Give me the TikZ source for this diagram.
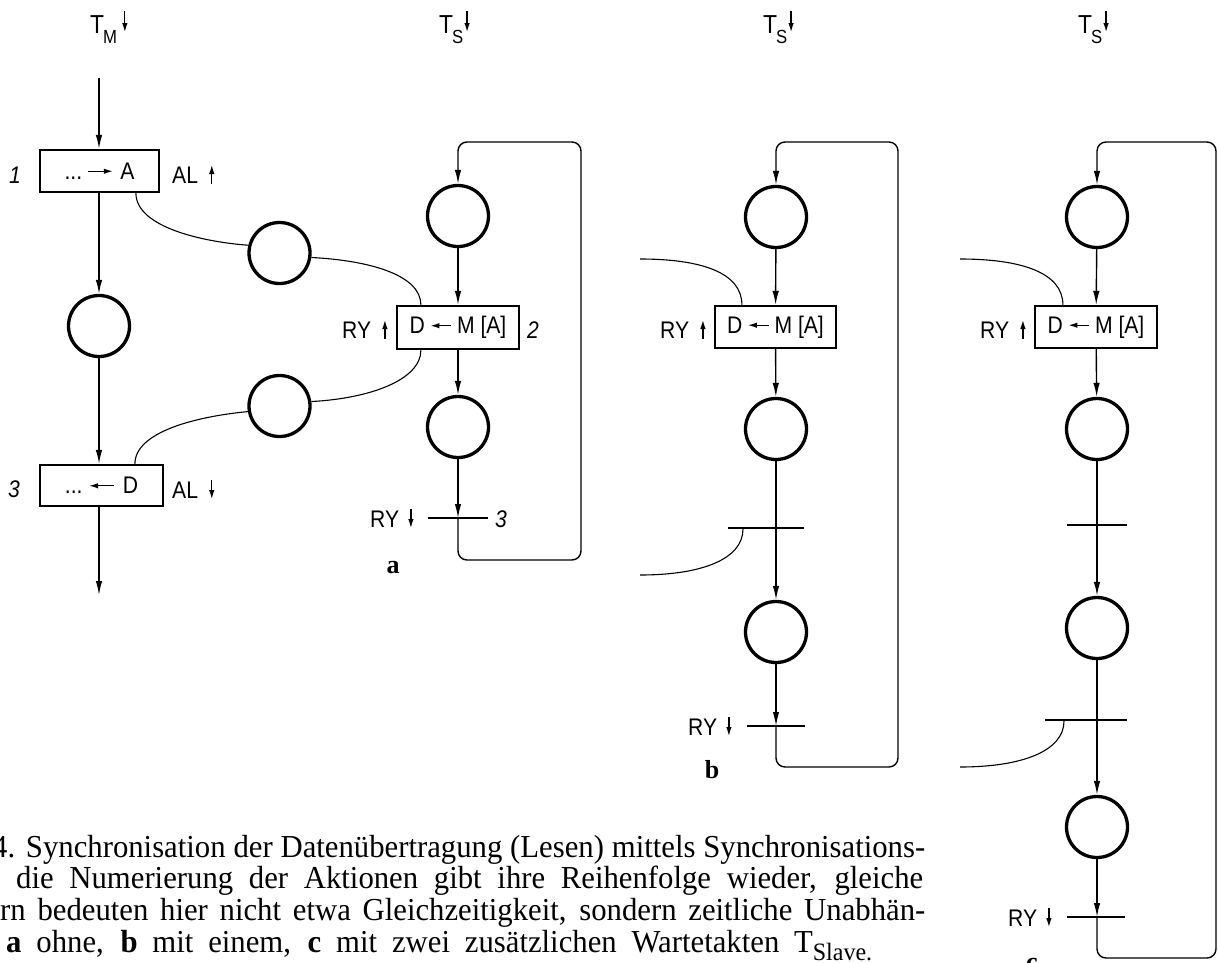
\documentclass[tikz,border=0pt]{standalone}
\usepackage{fontspec}
\setmainfont{Liberation Serif}
\newfontfamily\capfont[FakeStretch=0.96]{Liberation Serif}
\newfontfamily\lab[FakeStretch=0.88]{Liberation Sans}
\usetikzlibrary{arrows.meta,calc}
\newcommand{\labup}{\tikz[baseline=0pt]\draw[line width=1.2pt,-{Latex[length=9pt,width=5.5pt]}] (0pt,-1pt)--(0pt,18pt);}
\newcommand{\labdn}{\tikz[baseline=0pt]\draw[line width=1.2pt,-{Latex[length=9pt,width=5.5pt]}] (0pt,18pt)--(0pt,-1pt);}
\newcommand{\labri}[1]{\tikz[baseline=-8pt]\draw[line width=1.2pt,-{Latex[length=9pt,width=5.5pt]}] (0pt,0pt)--(#1,0pt);}
\newcommand{\lable}[1]{\tikz[baseline=-8pt]\draw[line width=1.2pt,-{Latex[length=9pt,width=5.5pt]}] (#1,0pt)--(0pt,0pt);}
\newcommand{\tarr}{\tikz[baseline=0pt]\draw[line width=1.2pt,-{Latex[length=9pt,width=5.5pt]}] (0pt,22pt)--(0pt,1pt);}
\begin{document}
\begin{tikzpicture}[x=1pt,y=-1pt,
  >={Latex[length=14pt,width=6.5pt]},
  conn/.style={line width=1.4pt,->},
  plain/.style={line width=1.4pt},
  loopline/.style={line width=1.4pt,rounded corners=9pt,->},
  thinline/.style={line width=1.1pt},
  place/.style={circle,draw,line width=3.3pt,minimum size=61pt,inner sep=0pt},
  action/.style={rectangle,draw,line width=2.2pt,inner sep=0pt,minimum height=42pt,font=\lab\fontsize{24}{26}\selectfont},
  bar/.style={rectangle,fill=black,inner sep=0pt,minimum height=2.6pt},
  lbl/.style={font=\lab\fontsize{24}{26}\selectfont,inner sep=0pt,anchor=base west},
  ital/.style={font=\lab\itshape\fontsize{24}{26}\selectfont,inner sep=0pt,anchor=base west},
  tlbl/.style={font=\lab\fontsize{26}{28}\selectfont,inner sep=0pt,anchor=base west},
  sublbl/.style={font=\bfseries\fontsize{26}{28}\selectfont,inner sep=0pt,anchor=base},
  captext/.style={font=\capfont\fontsize{32}{32}\selectfont,inner sep=0pt,anchor=base west}
]
\useasboundingbox (0,0) rectangle (1218,962);

% ---------- clock labels
\node[tlbl] (TM) at (90,33) {T\kern-1pt\raisebox{-10pt}{\fontsize{19}{19}\selectfont M}\kern5pt\tarr};
\node[tlbl] (TSa) at (439,33) {T\kern-1pt\raisebox{-10pt}{\fontsize{19}{19}\selectfont S}\kern1pt\tarr};
\node[tlbl] (TSb) at (763,33) {T\kern-1pt\raisebox{-10pt}{\fontsize{19}{19}\selectfont S}\kern1pt\tarr};
\node[tlbl] (TSc) at (1078,33) {T\kern-1pt\raisebox{-10pt}{\fontsize{19}{19}\selectfont S}\kern1pt\tarr};

% ---------- master column
\coordinate (m0) at (99,78);
\node[action,minimum width=119pt] (box1) at (99.5,171) {...\hspace{5pt}\labri{25pt}\hspace{7pt}A};
\node[ital] (n1) at (9,183) {1};
\node[lbl] (al1) at (172,183) {AL\hspace{11pt}\labup};
\node[place] (P1) at (99,326) {};
\node[action,minimum width=123pt,minimum height=41pt] (box3) at (101.5,485.5) {...\hspace{6pt}\lable{25pt}\hspace{8pt}D};
\node[ital] (n3) at (8,497) {3};
\node[lbl] (al3) at (172,498) {AL\hspace{11pt}\labdn};
\coordinate (m1) at (99,595);
\draw[conn] (m0) -- (box1.north -| m0);
\draw[conn] (box1.south -| m0) -- (P1);
\draw[conn] (P1) -- (box3.north -| P1);
\draw[conn] (box3.south -| P1) -- (m1);

% ---------- side places
\node[place] (S1) at (279.5,253) {};
\node[place] (S2) at (279.5,406) {};

% ---------- column a
\node[place] (A1) at (458,216) {};
\node[action,minimum width=122pt,minimum height=43pt] (box2) at (458,327.5) {D\hspace{5pt}\lable{21pt}\hspace{5pt}M [A]};
\node[lbl] (rya) at (342,338) {RY\hspace{11pt}\labup};
\node[ital] (n2) at (527,338) {2};
\node[place] (A2) at (458,427) {};
\node[bar,minimum width=60pt] (barA) at (458,518) {};
\node[lbl] (ryda) at (370,527) {RY\hspace{9pt}\labdn};
\node[ital] (n3a) at (495,527) {3};
\node[sublbl] (la) at (393,573) {a};
\coordinate (la1) at (458,560);
\coordinate (la2) at (581,560);
\coordinate (la3) at (581,142);
\coordinate (la4) at (458,142);
\draw[conn] (A1) -- (box2);
\draw[conn] (box2) -- (A2);
\draw[conn] (A2) -- (barA.center);
\draw[loopline] (barA.center) -- (la1) -- (la2) -- (la3) -- (la4) -- (A1);

% ---------- couplings master <-> a
\draw[thinline] ($(box1.south west)+(97,0)$) .. controls +(0,35) and +(-42,-3) .. (S1.166);
\draw[thinline] (S1.-8) .. controls +(58,3) and +(0,-30) .. ($(box2.north west)+(25,0)$);
\draw[thinline] ($(box2.south west)+(25,0)$) .. controls +(0,30) and +(58,-3) .. (S2.8);
\draw[thinline] (S2.190) .. controls +(-52,5) and +(0,-32) .. ($(box3.north west)+(96,0)$);

% ---------- column b
\node[place] (B1) at (776,217) {};
\node[action,minimum width=121pt] (boxB) at (775.5,327) {D\hspace{5pt}\lable{21pt}\hspace{5pt}M [A]};
\node[lbl] (ryb) at (660,338) {RY\hspace{11pt}\labup};
\node[place] (B2) at (776,429) {};
\node[bar,minimum width=76pt] (barB1) at (766,528) {};
\node[place] (B3) at (776,632) {};
\node[bar,minimum width=58pt] (barBR) at (776,726) {};
\node[lbl] (rydb) at (688,735) {RY\hspace{9pt}\labdn};
\node[sublbl] (lb) at (712,778) {b};
\coordinate (lb1) at (776,767);
\coordinate (lb2) at (898,767);
\coordinate (lb3) at (898,142);
\coordinate (lb4) at (776,142);
\coordinate (fb1) at (640,259);
\coordinate (fb2) at (640,575);
\draw[conn] (B1) -- (boxB);
\draw[conn] (boxB) -- (B2);
\draw[plain] (B2) -- (B2 |- barB1.center);
\draw[conn] (B2 |- barB1.center) -- (B3);
\draw[conn] (B3) -- (barBR.center);
\draw[loopline] (barBR.center) -- (lb1) -- (lb2) -- (lb3) -- (lb4) -- (B1);
\draw[thinline] ($(boxB.north west)+(28,0)$) .. controls +(0,-32) and +(62,0) .. (fb1);
\draw[thinline] ($(barB1.center)+(-23,1)$) .. controls +(0,30) and +(62,0) .. (fb2);

% ---------- column c
\node[place] (C1) at (1097,217) {};
\node[action,minimum width=122pt] (boxC) at (1096,327) {D\hspace{5pt}\lable{21pt}\hspace{5pt}M [A]};
\node[lbl] (ryc) at (980,338) {RY\hspace{11pt}\labup};
\node[place] (C2) at (1097,429) {};
\node[bar,minimum width=60pt] (barC1) at (1097,525) {};
\node[place] (C3) at (1097,628) {};
\node[bar,minimum width=82pt] (barC2) at (1086,720) {};
\node[place] (C4) at (1097,827) {};
\node[bar,minimum width=58pt] (barCR) at (1096,917) {};
\node[lbl] (rydc) at (1008,926) {RY\hspace{9pt}\labdn};
\node[sublbl] (lc) at (1032,970) {c};
\coordinate (lc1) at (1097,958);
\coordinate (lc2) at (1216,958);
\coordinate (lc3) at (1216,142);
\coordinate (lc4) at (1097,142);
\coordinate (fc1) at (960,259);
\coordinate (fc2) at (960,767);
\draw[conn] (C1) -- (boxC);
\draw[conn] (boxC) -- (C2);
\draw[plain] (C2) -- (C2 |- barC1.center);
\draw[conn] (C2 |- barC1.center) -- (C3);
\draw[plain] (C3) -- (C3 |- barC2.center);
\draw[conn] (C3 |- barC2.center) -- (C4);
\draw[conn] (C4) -- (C4 |- barCR.center);
\draw[loopline] (C4 |- barCR.center) -- (lc1) -- (lc2) -- (lc3) -- (lc4) -- (C1);
\draw[thinline] ($(boxC.north west)+(29,0)$) .. controls +(0,-32) and +(62,0) .. (fc1);
\draw[thinline] ($(barC2.center)+(-22,1)$) .. controls +(0,30) and +(62,0) .. (fc2);

% ---------- caption
\node[captext] (cap1) at (-8,857) {\makebox[933pt][s]{4. Synchronisation der Datenübertragung (Lesen) mittels Synchronisations-}};
\node[captext] (cap2) at (16,888.5) {\makebox[907pt][s]{die Numerierung der Aktionen gibt ihre Reihenfolge wieder, gleiche}};
\node[captext] (cap3) at (0,920) {\makebox[925pt][s]{rn bedeuten hier nicht etwa Gleichzeitigkeit, sondern zeitliche Unabhän-}};
\node[captext] (cap4) at (6,952) {\makebox[866pt][s]{\textbf{a} ohne, \textbf{b} mit einem, \textbf{c} mit zwei zusätzlichen Wartetakten T\raisebox{-8pt}{\fontsize{25}{25}\selectfont Slave.}}};
\end{tikzpicture}
\end{document}
